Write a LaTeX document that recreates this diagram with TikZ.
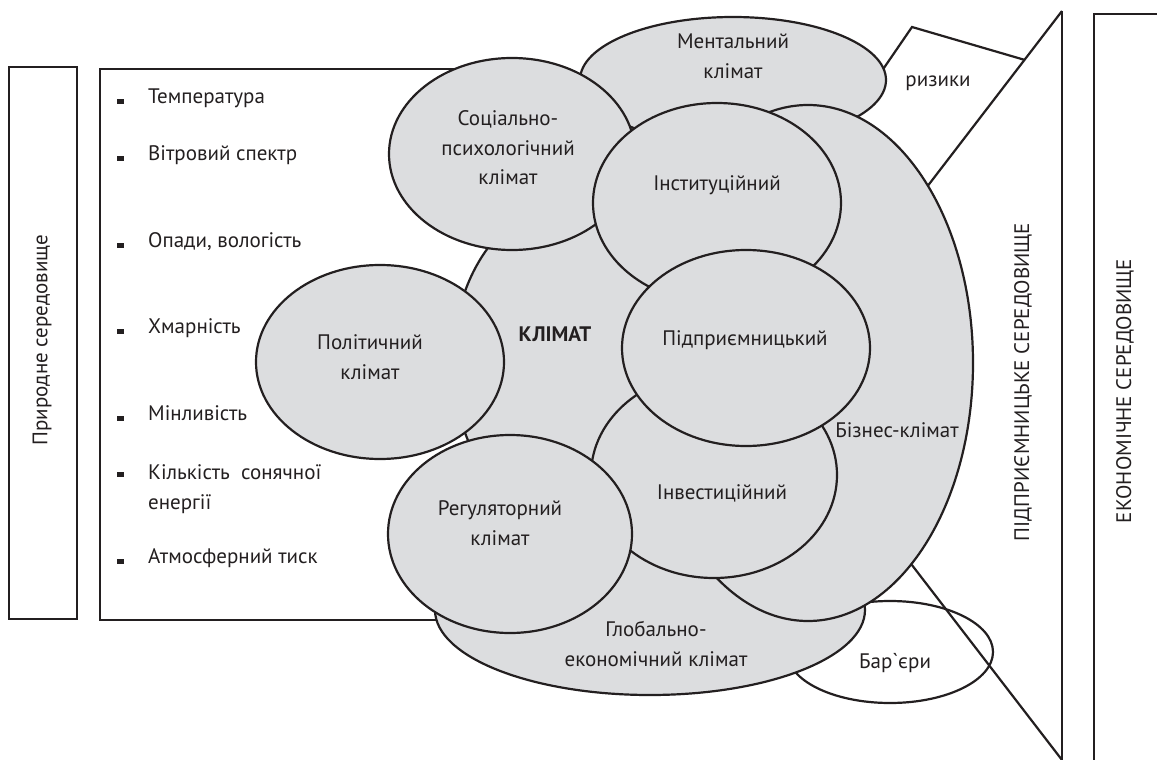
\documentclass[tikz,border=0pt]{standalone}
\usepackage{fontspec}
\setmainfont{PT Sans}
\definecolor{bubble}{RGB}{220,221,223}
\definecolor{ink}{RGB}{35,31,32}
\tikzset{
  zone/.style={draw=ink, line width=2.2pt, fill=bubble},
  frame/.style={draw=ink, line width=2.2pt},
  lbl/.style={text=ink, inner sep=0pt, align=center, font=\fontsize{21}{29.5}\selectfont},
  item/.style={lbl, anchor=mid west, align=left},
}
\begin{document}
\begin{tikzpicture}[x=1pt,y=-1pt]
\useasboundingbox (0,0) rectangle (1157,760);

% Природне середовище
\draw[frame] (9,67) rectangle (77,619);
\node[lbl, rotate=90] (pryroda) at (42,340) {Природне середовище};

% Chynnyky (list box)
\draw[frame] (480,69) -- (100,69) -- (100,620) -- (450,620);
\fill[ink] (117,98.5) rectangle (124,103.5);
\node[item] (temp) at (148,101) {Температура};
\fill[ink] (117,155.5) rectangle (124,160.5);
\node[item] (viter) at (148,158) {Вітровий спектр};
\fill[ink] (117,242.5) rectangle (124,247.5);
\node[item] (opady) at (148,245) {Опади, вологість};
\fill[ink] (117,328.5) rectangle (124,333.5);
\node[item] (hmar) at (148,331) {Хмарність};
\fill[ink] (117,415.5) rectangle (124,420.5);
\node[item] (minl) at (148,418) {Мінливість};
\fill[ink] (117,471.5) rectangle (124,476.5);
\node[item, anchor=west] (sonce) at (148,489) {Кількість~~сонячної\\енергії};
\fill[ink] (117,558.5) rectangle (124,563.5);
\node[item] (tysk) at (148,561) {Атмосферний тиск};

% Pidpryiemnytske seredovyshche
\draw[frame] (1062,11) -- (1062,760);
\draw[frame] (1062,11) -- (920,196);
\draw[frame] (905,556) -- (1062,760);

% ryzyky
\draw[frame] (875,81) -- (912,27) -- (1025,60);

% Ekonomichne seredovyshche
\draw[frame] (1157,14) -- (1094,14) -- (1094,760);

% Bar`iery (no fill)
\draw[frame] (890,652) ellipse [x radius=103pt, y radius=51pt];

% Klimat (centre)
\draw[zone] (570,362) ellipse [x radius=117pt, y radius=160pt];
% Globalno-ekonomichnyi
\draw[zone] (650,610) ellipse [x radius=215pt, y radius=85pt];
% Mentalnyi
\draw[zone] (733,80) ellipse [x radius=153pt, y radius=63pt];
% Biznes-klimat
\draw[zone] (808,363) ellipse [x radius=165pt, y radius=258pt];
% Sotsialno-psykholohichnyi
\draw[zone] (512,154) ellipse [x radius=123pt, y radius=96pt];
% Politychnyi
\draw[zone] (380,362) ellipse [x radius=124pt, y radius=97pt];
% Instytutsiinyi
\draw[zone] (717,203) ellipse [x radius=124pt, y radius=100pt];
% Investytsiinyi
\draw[zone] (714,475) ellipse [x radius=123pt, y radius=103pt];
% Rehuliatornyi
\draw[zone] (510,534) ellipse [x radius=122pt, y radius=99pt];
% Pidpryiemnytskyi
\draw[zone] (746,348) ellipse [x radius=124pt, y radius=98pt];

% labels
\node[lbl] (klimat) at (555,334) {\bfseries КЛІМАТ};
\node[lbl] (mental) at (733,56) {Ментальний\\клімат};
\node[lbl] (social) at (508,148) {Соціально-\\психологічний\\клімат};
\node[lbl] (instyt) at (717,185) {Інституційний};
\node[lbl] (pidpryiem) at (745,340) {Підприємницький};
\node[lbl] (invest) at (722,493) {Інвестиційний};
\node[lbl] (polit) at (370,357) {Політичний\\клімат};
\node[lbl] (rehul) at (500,523) {Регуляторний\\клімат};
\node[lbl] (global) at (656,644) {Глобально-\\економічний клімат};
\node[lbl] (biznes) at (897,430) {Бізнес-клімат};
\node[lbl] (bariery) at (895,663) {Бар\textasciigrave єри};
\node[lbl] (ryzyky) at (938,83) {ризики};
\node[lbl, rotate=90] (pidpr) at (1023,382) {ПІДПРИЄМНИЦЬКЕ СЕРЕДОВИЩЕ};
\node[lbl, rotate=90] (econ) at (1125,391) {ЕКОНОМІЧНЕ СЕРЕДОВИЩЕ};
\end{tikzpicture}
\end{document}
